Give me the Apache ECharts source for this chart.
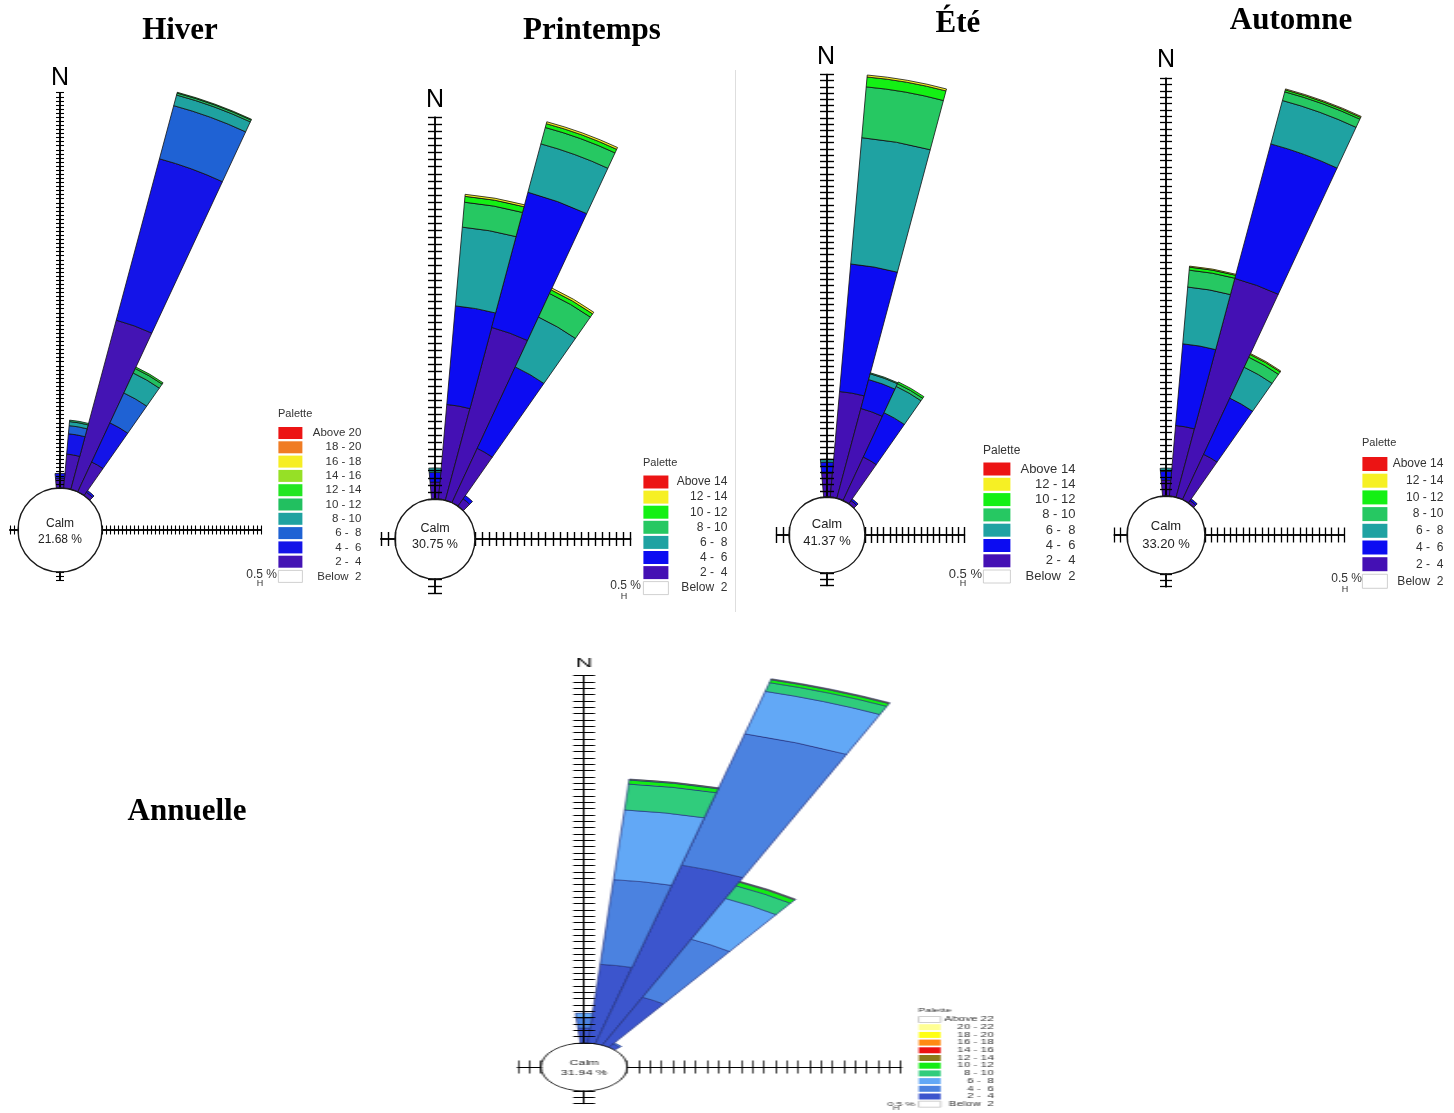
<!DOCTYPE html>
<html>
<head>
<meta charset="utf-8">
<title>Roses des vents</title>
<script src="https://cdn.jsdelivr.net/npm/echarts@6.0.0/dist/echarts.min.js"></script>
<style>
  html, body { margin:0; padding:0; background:#ffffff; }
  #main { position:absolute; left:0; top:0; width:1454px; height:1113px; }
  #annual { position:absolute; left:500px; top:650px; width:283px; height:463px; transform:scaleX(1.8); transform-origin:0 0; }
</style>
</head>
<body>
<div id="main"></div>
<div id="annual"></div>
<script>
// ======================= DATA =======================
const TITLES = ['Hiver', 'Printemps', 'Été', 'Automne', 'Annuelle'];
const CALM_PCT = ['21.68 %', '30.75 %', '41.37 %', '33.20 %', '31.94 %'];
const DIR_DEG = [0, 10, 20, 30, 40];            // wind directions (° from north) that carry data
const SCALE_LABEL = '0.5 %';

const HIVER_CLASSES  = ['Above 20', '18 - 20', '16 - 18', '14 - 16', '12 - 14', '10 - 12', '8 - 10', '6 -  8', '4 -  6', '2 -  4', 'Below  2'];
const SEASON_CLASSES = ['Above 14', '12 - 14', '10 - 12', '8 - 10', '6 -  8', '4 -  6', '2 -  4', 'Below  2'];
const ANNUAL_CLASSES = ['Above 22', '20 - 22', '18 - 20', '16 - 18', '14 - 16', '12 - 14', '10 - 12', '8 - 10', '6 -  8', '4 -  6', '2 -  4', 'Below  2'];

// frequencies (%) for directions 0°,10°,20°,30°,40°
// Hiver
const HIV_2_4   = [1.2, 4.2, 21.5, 4.05, 0.5];
const HIV_4_6   = [0.6, 2.5, 20.5, 5.3, 0.25];
const HIV_6_8   = [0, 1.0, 6.75, 4.05, 0];
const HIV_8_10  = [0, 0.5, 1.35, 2.7, 0];
const HIV_10_12 = [0, 0.18, 0.25, 0.6, 0];
const HIV_12_14 = [0, 0, 0.1, 0.2, 0];
// Printemps
const PRI_2_4   = [1.2, 6.72, 12.66, 4.24, 0.64];
const PRI_4_6   = [0.7, 7.0, 9.9, 6.36, 0.28];
const PRI_6_8   = [0.3, 5.59, 3.54, 3.89, 0];
const PRI_8_10  = [0, 1.77, 1.2, 1.84, 0];
const PRI_10_12 = [0, 0.42, 0.28, 0.28, 0];
const PRI_12_14 = [0, 0.14, 0.14, 0.14, 0];
// Été
const ETE_2_4   = [1.93, 8.53, 7.48, 3.86, 0.32];
const ETE_4_6   = [0.88, 10.3, 2.41, 3.94, 0.16];
const ETE_6_8   = [0.24, 10.2, 0.48, 2.33, 0];
const ETE_8_10  = [0, 4.1, 0.08, 0.24, 0];
const ETE_10_12 = [0, 0.8, 0, 0.16, 0];
const ETE_12_14 = [0, 0.16, 0, 0, 0];
// Automne
const AUT_2_4   = [1.26, 5.6, 17.9, 3.95, 0.24];
const AUT_4_6   = [0.71, 6.48, 11.0, 4.9, 0.16];
const AUT_6_8   = [0.24, 4.5, 3.55, 2.69, 0];
const AUT_8_10  = [0, 1.34, 0.71, 0.87, 0];
const AUT_10_12 = [0, 0.24, 0.16, 0.24, 0];
const AUT_12_14 = [0, 0.08, 0.08, 0.08, 0];
// Annuelle
const ANN_2_4   = [1.18, 6.24, 14.6, 4.18, 0.32];
const ANN_4_6   = [0.79, 6.71, 10.73, 5.05, 0.1];
const ANN_6_8   = [0.39, 5.52, 3.47, 3.55, 0];
const ANN_8_10  = [0, 2.05, 0.71, 1.1, 0];
const ANN_10_12 = [0, 0.32, 0.24, 0.32, 0];
const ANN_12_14 = [0, 0.08, 0.08, 0.08, 0];

const HIVER_VALUES   = {'2 -  4': HIV_2_4, '4 -  6': HIV_4_6, '6 -  8': HIV_6_8, '8 - 10': HIV_8_10, '10 - 12': HIV_10_12, '12 - 14': HIV_12_14};
const PRINT_VALUES   = {'2 -  4': PRI_2_4, '4 -  6': PRI_4_6, '6 -  8': PRI_6_8, '8 - 10': PRI_8_10, '10 - 12': PRI_10_12, '12 - 14': PRI_12_14};
const ETE_VALUES     = {'2 -  4': ETE_2_4, '4 -  6': ETE_4_6, '6 -  8': ETE_6_8, '8 - 10': ETE_8_10, '10 - 12': ETE_10_12, '12 - 14': ETE_12_14};
const AUTOMNE_VALUES = {'2 -  4': AUT_2_4, '4 -  6': AUT_4_6, '6 -  8': AUT_6_8, '8 - 10': AUT_8_10, '10 - 12': AUT_10_12, '12 - 14': AUT_12_14};
const ANNUAL_VALUES  = {'2 -  4': ANN_2_4, '4 -  6': ANN_4_6, '6 -  8': ANN_6_8, '8 - 10': ANN_8_10, '10 - 12': ANN_10_12, '12 - 14': ANN_12_14};

// ======================= STYLE / LAYOUT =======================
const SANS = '"Liberation Sans", Arial, sans-serif';
const SERIF = '"Liberation Serif", "Times New Roman", serif';
const SECTOR_LABELS = Array.from({length: 36}, (_, i) => String(i * 10));

const HIVER_COLORS = {'Above 20':'#ec1414','18 - 20':'#f07c24','16 - 18':'#f6ee24','14 - 16':'#96e026','12 - 14':'#22e622','10 - 12':'#22c060','8 - 10':'#1fa2a0','6 -  8':'#1f62d4','4 -  6':'#1414e8','2 -  4':'#4414b4','Below  2':'#ffffff'};
const SEASON_COLORS = {'Above 14':'#ec1414','12 - 14':'#f6f024','10 - 12':'#14f014','8 - 10':'#26c862','6 -  8':'#1fa2a2','4 -  6':'#0c0cf2','2 -  4':'#4410b4','Below  2':'#ffffff'};
const ANNUAL_COLORS = {'Above 22':'#ffffff','20 - 22':'#ffff94','18 - 20':'#ffff14','16 - 18':'#ff8a14','14 - 16':'#ec1212','12 - 14':'#8a7a1a','10 - 12':'#14ec14','8 - 10':'#30cc7c','6 -  8':'#62a8f6','4 -  6':'#4b82e0','2 -  4':'#3c55cd','Below  2':'#ffffff'};
const WHITE_BOXES = ['Below  2', 'Above 22'];

const ROSES = [
  {cx:60, cy:530, r0:42, scale:8.15, nMax:48.5, eMax:19.5, stub:1, tickN:4, tickE:4.5, tickWN:1.1, tickWE:1.1, axisWN:1.5, axisWE:1.5, circleW:1.4, barBorder:'#111', barBW:0.8,
   title:[180,31], nLabel:[60,78,25], calm:[524,540,12],
   legend:{left:278, top:427, w:24, h:12, gap:2.3, textW:54, font:11.5}, palette:[278,414,11], sLbl:[277,575,12], hMark:[260,584,9]},
  {cx:435, cy:539, r0:40, scale:14.14, nMax:27, eMax:11, stub:1, tickN:7, tickE:7, tickWN:1.4, tickWE:1.4, axisWN:1.5, axisWE:1.5, circleW:1.4, barBorder:'#111', barBW:0.8,
   title:[592,31], nLabel:[435,100,25], calm:[529,545,12.5],
   legend:{left:643, top:475.5, w:25, h:13, gap:2.1, textW:54, font:12}, palette:[643,463,11], sLbl:[641,586,12], hMark:[624,597,9]},
  {cx:827, cy:535, r0:38, scale:12.43, nMax:34, eMax:8, stub:1, tickN:7, tickE:8, tickWN:1.4, tickWE:1.4, axisWN:1.5, axisWE:1.5, circleW:1.4, barBorder:'#111', barBW:0.8,
   title:[958,24], nLabel:[826,57,25], calm:[524,541,13],
   legend:{left:983, top:462.5, w:27, h:13, gap:2.3, textW:60, font:13}, palette:[983,451,12], sLbl:[982,574,13], hMark:[963,584,9]},
  {cx:1166, cy:535, r0:39, scale:12.66, nMax:33, eMax:11, stub:1, tickN:6, tickE:7.5, tickWN:1.3, tickWE:1.3, axisWN:1.5, axisWE:1.5, circleW:1.4, barBorder:'#111', barBW:0.8,
   title:[1291,21], nLabel:[1166,60,25], calm:[526,544,13],
   legend:{left:1362, top:457, w:25, h:14, gap:2.7, textW:51, font:12}, palette:[1362,443,11], sLbl:[1362,579,12], hMark:[1345,590,9]}
];
// Annual rose: drawn in a frame that is stretched 1.8x horizontally (as in the source figure)
const ANNUAL = {cx:46.7, cy:417, r0:24, scale:12.67, nMax:29, eMax:12, stub:1, tickN:6, tickE:6.5, tickWN:1, tickWE:0.7, axisWN:0.8, axisWE:1.2, circleW:0.9, barBorder:'#1c2a78', barBW:0.6,
   nLabel:[46.7,13,13], calm:[413,423,7],
   legend:{left:232.2, top:366, w:12.2, h:6, gap:0.7, textW:24.5, font:6.5}, palette:[232.2,360,6], sLbl:[230.5,454,6], hMark:[220,459,5]};

// ======================= BUILDERS =======================
function newOption() {
  return {animation:false, textStyle:{fontFamily:SANS}, polar:[], angleAxis:[], radiusAxis:[], series:[], legend:[], graphic:[]};
}
function addPolar(o, p, aAxis, rAxis) {
  const idx = o.polar.length;
  o.polar.push(p);
  o.angleAxis.push(Object.assign({polarIndex: idx}, aAxis));
  o.radiusAxis.push(Object.assign({polarIndex: idx}, rAxis));
  return idx;
}
function txt(x, y, text, size, align, weight, family, fill) {
  return {type:'text', x:x, y:y, silent:true, z:10,
    style:{text:text, fontSize:size, fontWeight:weight || 'normal', fontFamily:family || SANS, fill:fill || '#000',
           textAlign:align || 'center', textVerticalAlign:'middle', verticalAlign:'middle'}};
}
function buildRose(o, L, classes, colors, values, stackId, calmText) {
  const C = [L.cx, L.cy];
  // calm circle
  addPolar(o, {center:C, radius:L.r0},
    {type:'value', min:0, max:360, startAngle:90, z:6, axisLine:{show:true, lineStyle:{color:'#1a1a1a', width:L.circleW}},
     axisTick:{show:false}, axisLabel:{show:false}, splitLine:{show:false}},
    {type:'value', min:0, max:1, show:false});
  // stacked sectors
  const BAR_MAX = 60;
  const bi = addPolar(o, {center:C, radius:[L.r0, L.r0 + BAR_MAX * L.scale]},
    {type:'category', data:SECTOR_LABELS, startAngle:95, clockwise:true, show:false},
    {type:'value', min:0, max:BAR_MAX, show:false});
  classes.slice().reverse().forEach(function (name) {
    const vals = values[name];
    const data = SECTOR_LABELS.map(function () { return null; });
    if (vals) DIR_DEG.forEach(function (d, i) { if (vals[i] > 0) data[d / 10] = vals[i]; });
    o.series.push({type:'bar', name:name, coordinateSystem:'polar', polarIndex:bi, stack:stackId, data:data,
      barCategoryGap:'0%', silent:true, z:2,
      itemStyle:{color:colors[name], borderColor:L.barBorder, borderWidth:L.barBW}});
  });
  // N / E / W / S axes with crossing ticks (0.5 % interval): one polar per tick side
  const axes = [[90, L.nMax, L.tickN, L.tickWN, L.axisWN], [0, L.eMax, L.tickE, L.tickWE, L.axisWE],
                [180, L.stub, L.tickE, L.tickWE, L.axisWE], [270, L.stub, L.tickN, L.tickWN, L.axisWN]];
  axes.forEach(function (a) {
    [1, -1].forEach(function (side) {
      addPolar(o, {center:C, radius:[L.r0, L.r0 + a[1] * L.scale]},
        {type:'value', min:0, max:360, startAngle:a[0], show:false},
        {type:'value', min:0, max:a[1], interval:0.5, z:5,
         axisLine:{show:true, lineStyle:{color:'#000', width:a[4]}},
         axisTick:{show:true, length:side * a[2], lineStyle:{color:'#000', width:a[3]}},
         axisLabel:{show:false}, splitLine:{show:false}, splitArea:{show:false}});
    });
  });
  // legend (palette)
  const LG = L.legend;
  o.legend.push({orient:'vertical', left:LG.left, top:LG.top, padding:0, itemWidth:LG.w, itemHeight:LG.h, itemGap:LG.gap,
    icon:'rect', selectedMode:false,
    data: classes.map(function (c) {
      return {name:c, itemStyle: WHITE_BOXES.indexOf(c) >= 0 ? {color:'#ffffff', borderColor:'#c4c4c4', borderWidth:0.8}
                                                            : {color:colors[c], borderWidth:0}};
    }),
    formatter:'{r|{name}}',
    textStyle:{fontSize:LG.font, lineHeight:LG.h, color:'#333',
               rich:{r:{width:LG.textW, align:'right', fontSize:LG.font, lineHeight:LG.h, color:'#333', fontFamily:SANS}}}});
  // texts
  o.graphic.push(txt(L.nLabel[0], L.nLabel[1], 'N', L.nLabel[2]));
  o.graphic.push(txt(L.cx, L.calm[0], 'Calm', L.calm[2], 'center', 'normal', SANS, '#222'));
  o.graphic.push(txt(L.cx, L.calm[1], calmText, L.calm[2], 'center', 'normal', SANS, '#222'));
  o.graphic.push(txt(L.palette[0], L.palette[1], 'Palette', L.palette[2], 'left', 'normal', SANS, '#333'));
  o.graphic.push(txt(L.sLbl[0], L.sLbl[1], SCALE_LABEL, L.sLbl[2], 'right', 'normal', SANS, '#333'));
  o.graphic.push(txt(L.hMark[0], L.hMark[1], 'H', L.hMark[2], 'center', 'normal', SANS, '#333'));
}

// ======================= MAIN (four seasons) =======================
const mainOpt = newOption();
buildRose(mainOpt, ROSES[0], HIVER_CLASSES, HIVER_COLORS, HIVER_VALUES, 'hiver', CALM_PCT[0]);
buildRose(mainOpt, ROSES[1], SEASON_CLASSES, SEASON_COLORS, PRINT_VALUES, 'printemps', CALM_PCT[1]);
buildRose(mainOpt, ROSES[2], SEASON_CLASSES, SEASON_COLORS, ETE_VALUES, 'ete', CALM_PCT[2]);
buildRose(mainOpt, ROSES[3], SEASON_CLASSES, SEASON_COLORS, AUTOMNE_VALUES, 'automne', CALM_PCT[3]);
ROSES.forEach(function (L, i) {
  mainOpt.graphic.push(txt(L.title[0], L.title[1], TITLES[i], 31, 'center', 'bold', SERIF));
});
mainOpt.graphic.push(txt(187, 812, TITLES[4], 31, 'center', 'bold', SERIF));
mainOpt.graphic.push({type:'line', silent:true, shape:{x1:735.5, y1:70, x2:735.5, y2:612}, style:{stroke:'#dedede', lineWidth:1}});

const mainChart = echarts.init(document.getElementById('main'), null, {renderer:'canvas'});
mainChart.setOption(mainOpt);

// ======================= ANNUAL =======================
const annOpt = newOption();
buildRose(annOpt, ANNUAL, ANNUAL_CLASSES, ANNUAL_COLORS, ANNUAL_VALUES, 'annuelle', CALM_PCT[4]);
const annChart = echarts.init(document.getElementById('annual'), null, {renderer:'canvas'});
annChart.setOption(annOpt);
</script>
</body>
</html>
